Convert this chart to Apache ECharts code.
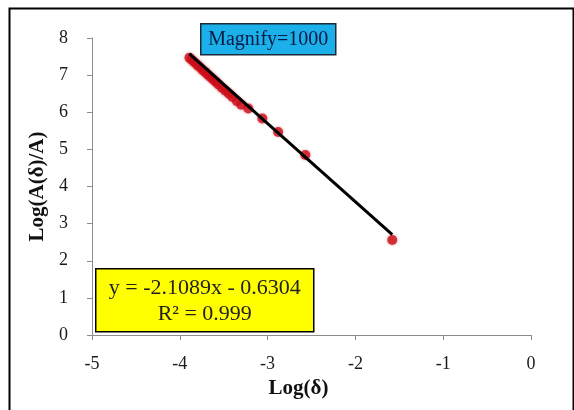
<!DOCTYPE html>
<html>
<head>
<meta charset="utf-8">
<script src="https://cdn.jsdelivr.net/npm/echarts@6/dist/echarts.min.js"></script>
<style>
  html, body { margin: 0; padding: 0; background: #fff; }
  #chart { width: 574px; height: 410px; }
</style>
</head>
<body>
<div id="chart"></div>
<script>
// measured points, Log(δ) vs Log(A(δ)/A)
const logDelta = [-3.89, -3.86, -3.83, -3.80, -3.77, -3.74, -3.71, -3.68, -3.65, -3.62,
                  -3.59, -3.56, -3.52, -3.48, -3.44, -3.40, -3.35, -3.30, -3.22, -3.06,
                  -2.88, -2.57, -1.58]
const logRatio = [7.47, 7.40, 7.34, 7.27, 7.21, 7.14, 7.08, 7.01, 6.95, 6.88,
                  6.82, 6.75, 6.66, 6.58, 6.50, 6.41, 6.30, 6.20, 6.10, 5.83,
                  5.47, 4.85, 2.56]

// fitted trendline
const slope = -2.1089
const intercept = -0.6304
const fitLabel = ['y = -2.1089x - 0.6304', 'R² = 0.999']
const magnifyLabel = 'Magnify=1000'

const xTicks = [-5, -4, -3, -2, -1, 0]
const yTicks = [0, 1, 2, 3, 4, 5, 6, 7, 8]

const chart = echarts.init(document.getElementById('chart'))

const points = logDelta.map((x, i) => [x, logRatio[i]])
const xMin = Math.min(...logDelta)
const xMax = Math.max(...logDelta)
const fitLine = [xMin, xMax].map(x => [x, slope * x + intercept])

const font = '"Liberation Serif", "DejaVu Serif", serif'

const option = {
  backgroundColor: '#fff',
  animation: false,
  grid: { left: 92, right: 43, top: 38, bottom: 75 },
  xAxis: {
    type: 'value',
    min: xTicks[0],
    max: xTicks[xTicks.length - 1],
    interval: 1,
    name: 'Log(δ)',
    nameLocation: 'middle',
    nameGap: 42,
    nameTextStyle: { fontFamily: font, fontSize: 21, fontWeight: 'bold', color: '#111', padding: [0, 26, 0, 0] },
    axisLine: { onZero: false, lineStyle: { color: '#8c8c8c', width: 1 } },
    axisTick: { show: true, length: 5, lineStyle: { color: '#8c8c8c' } },
    axisLabel: { fontFamily: font, fontSize: 18, color: '#1a1a1a', margin: 20 },
    splitLine: { show: false }
  },
  yAxis: {
    type: 'value',
    min: yTicks[0],
    max: yTicks[yTicks.length - 1],
    interval: 1,
    name: 'Log(A(δ)/A)',
    nameLocation: 'middle',
    nameGap: 44,
    nameTextStyle: { fontFamily: font, fontSize: 21, fontWeight: 'bold', color: '#111' },
    axisLine: { show: true, onZero: false, lineStyle: { color: '#8c8c8c', width: 1 } },
    axisTick: { show: true, length: 5, lineStyle: { color: '#8c8c8c' } },
    axisLabel: { fontFamily: font, fontSize: 18, color: '#1a1a1a', margin: 24 },
    splitLine: { show: false }
  },
  series: [
    {
      type: 'scatter',
      data: points,
      symbol: 'circle',
      symbolSize: 10,
      itemStyle: { color: '#cc0f1c', shadowBlur: 3, shadowColor: 'rgba(200,0,0,0.5)' },
      z: 2
    },
    {
      type: 'line',
      data: fitLine,
      symbol: 'none',
      lineStyle: { color: '#000', width: 3 },
      z: 3
    }
  ],
  graphic: [
    {
      type: 'rect',
      left: 7, top: 6,
      shape: { width: 564, height: 410 },
      style: { fill: 'none', stroke: '#000', lineWidth: 2 },
      z: 10
    },
    {
      type: 'group',
      left: 200, top: 23,
      z: 20,
      children: [
        {
          type: 'rect',
          shape: { width: 135, height: 31 },
          style: { fill: '#1bb0ea', stroke: '#1a2a3a', lineWidth: 1.5 }
        },
        {
          type: 'text',
          x: 67.5, y: 16,
          style: {
            text: magnifyLabel,
            font: '20px ' + font,
            fill: '#0b1b44',
            align: 'center',
            verticalAlign: 'middle'
          }
        }
      ]
    },
    {
      type: 'group',
      left: 95, top: 268,
      z: 20,
      children: [
        {
          type: 'rect',
          shape: { width: 218, height: 63 },
          style: { fill: '#ffff00', stroke: '#000', lineWidth: 1.5 }
        },
        {
          type: 'text',
          x: 109, y: 19,
          style: {
            text: fitLabel[0],
            font: '22px ' + font,
            fill: '#222',
            align: 'center',
            verticalAlign: 'middle'
          }
        },
        {
          type: 'text',
          x: 109, y: 45,
          style: {
            text: fitLabel[1],
            font: '22px ' + font,
            fill: '#222',
            align: 'center',
            verticalAlign: 'middle'
          }
        }
      ]
    }
  ]
}

chart.setOption(option)
</script>
</body>
</html>
